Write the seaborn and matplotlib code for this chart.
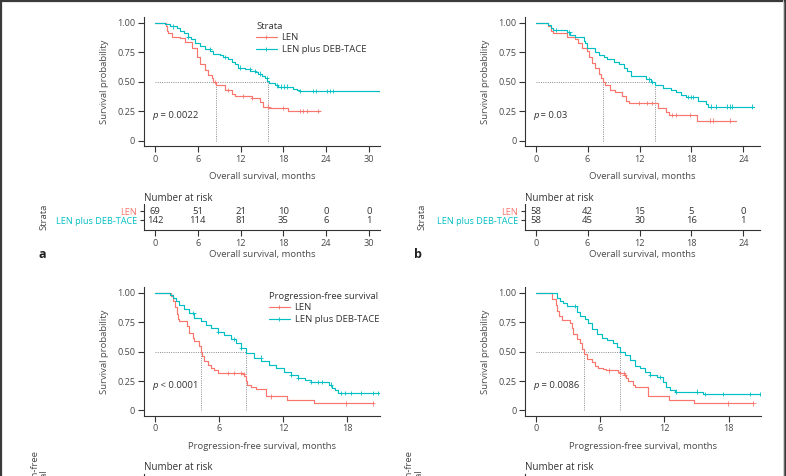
import numpy as np
import pandas as pd
import matplotlib
matplotlib.use("Agg")
import matplotlib.pyplot as plt
import seaborn as sns
from matplotlib.lines import Line2D

sns.set_theme(style="ticks")
plt.rcParams['font.family'] = ['Open Sans', 'DejaVu Sans']

GROUPS = ["LEN", "LEN plus DEB-TACE"]
COLORS = {"LEN": "#F8766D", "LEN plus DEB-TACE": "#00BFC4"}

# ---------------- Panel a : overall survival ----------------
a_len_t = [0, 1.50, 1.64, 1.87, 2.34, 3.50, 4.21, 5.14, 5.84, 6.31, 7.01, 7.48, 7.94, 8.20, 8.55, 9.81,
           10.75, 11.21, 13.55, 14.72, 15.19, 15.98, 18.69, 23.13]
a_len_s = [1.0, 0.97, 0.93, 0.91, 0.88, 0.87, 0.84, 0.785, 0.71, 0.65, 0.60, 0.56, 0.53, 0.50, 0.47, 0.43,
           0.40, 0.38, 0.36, 0.33, 0.29, 0.28, 0.25, 0.25]
a_len_cens = [8.4, 10.3, 12.4, 13.6, 15.9, 18.0, 20.3, 20.8, 21.3, 22.9]
a_deb_t = [0, 1.31, 1.40, 2.10, 3.04, 3.50, 4.11, 4.58, 5.05, 5.61, 6.31, 7.01, 7.71, 8.18, 9.11, 9.58,
           10.19, 10.75, 11.21, 11.68, 12.62, 13.32, 14.02, 14.49, 14.95, 15.42, 15.75, 15.98, 16.82,
           17.29, 18.69, 19.39, 19.86, 20.19, 32.0]
a_deb_s = [1.0, 0.995, 0.99, 0.97, 0.96, 0.93, 0.91, 0.88, 0.86, 0.83, 0.80, 0.78, 0.76, 0.74, 0.73, 0.71,
           0.69, 0.67, 0.65, 0.62, 0.61, 0.59, 0.58, 0.57, 0.55, 0.53, 0.51, 0.49, 0.47,
           0.46, 0.455, 0.44, 0.43, 0.42, 0.42]
a_deb_cens = [2.5, 4.6, 7.7, 9.8, 11.9, 13.3, 14.0, 14.7, 15.7, 17.1, 17.6, 18.1, 18.5, 20.3, 22.2, 22.6,
              24.1, 24.5, 25.0]
a_medians = [8.55, 15.9]
a_pval = "= 0.0022"
a_risk_times = [0, 6, 12, 18, 24, 30]
a_risk_len = [69, 51, 21, 10, 0, 0]
a_risk_deb = [142, 114, 81, 35, 6, 1]

# ---------------- Panel b : overall survival ----------------
b_len_t = [0, 1.44, 1.75, 2.05, 3.58, 4.55, 4.94, 5.33, 5.91, 6.11, 6.50, 6.89, 7.35, 7.59, 7.79, 8.05,
           8.64, 9.22, 10.0, 10.4, 10.8, 14.1, 15.06, 15.45, 18.6, 23.2]
b_len_s = [1.0, 0.97, 0.93, 0.91, 0.88, 0.86, 0.83, 0.79, 0.76, 0.71, 0.66, 0.62, 0.57, 0.53, 0.50, 0.47,
           0.43, 0.41, 0.38, 0.34, 0.32, 0.28, 0.24, 0.22, 0.17, 0.17]
b_len_cens = [11.9, 12.9, 13.5, 15.8, 16.2, 17.8, 20.1, 20.5, 22.5]
b_deb_t = [0, 1.44, 1.75, 2.02, 3.58, 3.97, 4.55, 5.53, 5.72, 5.91, 6.89, 7.28, 7.86, 8.25, 9.03, 9.61,
           10.2, 10.6, 11.0, 12.7, 13.3, 13.8, 14.7, 15.6, 16.2, 16.8, 17.4, 18.8, 19.7, 19.9, 25.2]
b_deb_s = [1.0, 0.98, 0.96, 0.94, 0.92, 0.90, 0.88, 0.85, 0.83, 0.79, 0.75, 0.73, 0.71, 0.69, 0.67, 0.65,
           0.62, 0.59, 0.55, 0.52, 0.50, 0.47, 0.45, 0.43, 0.41, 0.39, 0.37, 0.34, 0.31, 0.29, 0.29]
b_deb_cens = [2.4, 3.9, 13.1, 13.5, 17.6, 18.0, 18.2, 20.3, 20.9, 22.1, 22.5, 22.7, 25.0]
b_medians = [7.8, 13.8]
b_pval = "= 0.03"
b_risk_times = [0, 6, 12, 18, 24]
b_risk_len = [58, 42, 15, 5, 0]
b_risk_deb = [58, 45, 30, 16, 1]

# ---------------- Panel c : progression-free survival ----------------
c_len_t = [0, 1.50, 1.72, 1.87, 2.03, 2.19, 2.28, 3.0, 3.22, 3.53, 3.69, 4.09, 4.31, 4.41, 4.56, 4.94,
           5.25, 5.56, 5.88, 8.2, 8.38, 8.53, 8.63, 9.0, 9.47, 10.4, 12.4, 14.9, 20.4]
c_len_s = [1.0, 0.97, 0.93, 0.88, 0.82, 0.78, 0.76, 0.72, 0.66, 0.62, 0.59, 0.55, 0.50, 0.46, 0.42, 0.39,
           0.36, 0.34, 0.32, 0.31, 0.29, 0.25, 0.22, 0.20, 0.18, 0.12, 0.09, 0.06, 0.06]
c_len_cens = [6.8, 7.4, 8.1, 8.3, 10.9, 17.9, 20.4]
c_deb_t = [0, 1.45, 1.66, 1.97, 2.28, 2.75, 3.22, 3.69, 4.31, 4.78, 5.25, 5.88, 6.5, 7.13, 7.59, 8.06,
           8.53, 9.31, 9.94, 10.7, 11.3, 12.1, 12.75, 13.4, 14.0, 14.6, 16.3, 16.6, 16.9, 17.1, 21.5]
c_deb_s = [1.0, 0.98, 0.96, 0.93, 0.90, 0.86, 0.83, 0.79, 0.76, 0.73, 0.70, 0.67, 0.64, 0.61, 0.57, 0.53,
           0.49, 0.45, 0.42, 0.39, 0.36, 0.33, 0.30, 0.28, 0.26, 0.24, 0.22, 0.19, 0.17, 0.15, 0.15]
c_deb_cens = [3.6, 5.9, 7.4, 8.1, 9.9, 12.75, 13.4, 14.6, 15.25, 15.6, 16.5, 17.4, 17.75, 18.4, 19.3,
              20.4, 20.9]
c_medians = [4.3, 8.5]
c_pval = "< 0.0001"

# ---------------- Panel d : progression-free survival ----------------
d_len_t = [0, 1.49, 1.86, 2.02, 2.17, 2.42, 3.2, 3.35, 3.51, 3.82, 4.13, 4.35, 4.53, 4.75, 5.22, 5.53,
           5.84, 6.3, 6.6, 7.7, 7.86, 8.26, 8.45, 8.64, 9.1, 9.3, 10.5, 12.45, 14.8, 20.3]
d_len_s = [1.0, 0.95, 0.90, 0.85, 0.80, 0.77, 0.74, 0.70, 0.65, 0.61, 0.57, 0.52, 0.48, 0.44, 0.41, 0.38,
           0.36, 0.35, 0.34, 0.33, 0.32, 0.30, 0.28, 0.25, 0.22, 0.20, 0.12, 0.09, 0.06, 0.06]
d_len_cens = [6.8, 7.9, 8.2, 8.3, 17.95, 20.3]
d_deb_t = [0, 1.96, 2.27, 2.58, 2.89, 3.82, 4.13, 4.60, 4.91, 5.22, 5.68, 6.15, 6.61, 7.24, 7.55, 7.86,
           8.32, 8.79, 9.25, 9.72, 10.19, 10.65, 11.27, 11.89, 12.2, 12.52, 12.98, 15.62, 21.1]
d_deb_s = [1.0, 0.96, 0.935, 0.91, 0.89, 0.84, 0.80, 0.78, 0.74, 0.69, 0.65, 0.62, 0.60, 0.57, 0.54, 0.50,
           0.47, 0.43, 0.38, 0.36, 0.33, 0.30, 0.285, 0.24, 0.20, 0.17, 0.16, 0.14, 0.14]
d_deb_cens = [3.7, 10.65, 11.6, 13.1, 15.0, 15.8, 17.5, 20.0, 20.9]
d_medians = [4.55, 7.85]
d_pval = "= 0.0086"

x_ticks_os_a = [0, 6, 12, 18, 24, 30]
x_ticks_os_b = [0, 6, 12, 18, 24]
x_ticks_pfs = [0, 6, 12, 18]
y_ticks = [0, 0.25, 0.50, 0.75, 1.00]
y_tick_labels = ["0", "0.25", "0.50", "0.75", "1.00"]

TXT = "#4a4a4a"
DARK = "#333333"
FS = 6.6

W, H = 786, 476
fig = plt.figure(figsize=(W / 100, H / 100), dpi=100)


def add_px_axes(l, t, r, b):
    return fig.add_axes([l / W, 1 - b / H, (r - l) / W, (b - t) / H])


def step_value(t, s, x):
    idx = np.searchsorted(np.asarray(t), np.asarray(x), side="right") - 1
    return np.asarray(s)[idx]


def style(ax):
    for sp in ["top", "right"]:
        ax.spines[sp].set_visible(False)
    for sp in ["left", "bottom"]:
        ax.spines[sp].set_color(DARK)
        ax.spines[sp].set_linewidth(0.8)
    ax.tick_params(length=4.1, width=0.8, color=DARK, pad=2.2, labelsize=FS, labelcolor=TXT)
    ax.grid(False)
    ax.set_facecolor("white")


def km_panel(box, len_t, len_s, len_c, deb_t, deb_s, deb_c, medians, pval, xlim, xticks,
             xlabel, legend_title=None, legend_x=0.5):
    ax = add_px_axes(*box)
    style(ax)
    curves = pd.concat([
        pd.DataFrame({"time": len_t, "surv": len_s, "group": GROUPS[0]}),
        pd.DataFrame({"time": deb_t, "surv": deb_s, "group": GROUPS[1]}),
    ], ignore_index=True)
    cens = pd.concat([
        pd.DataFrame({"time": len_c, "surv": step_value(len_t, len_s, len_c), "group": GROUPS[0]}),
        pd.DataFrame({"time": deb_c, "surv": step_value(deb_t, deb_s, deb_c), "group": GROUPS[1]}),
    ], ignore_index=True)
    # median reference lines
    ax.plot([0, max(medians)], [0.5, 0.5], color="#8a8a8a", lw=0.7, ls=(0, (1, 1.3)), zorder=1)
    for m in medians:
        ax.plot([m, m], [0, 0.5], color="#8a8a8a", lw=0.7, ls=(0, (1, 1.3)), zorder=1)
    sns.lineplot(data=curves, x="time", y="surv", hue="group", palette=COLORS, hue_order=GROUPS,
                 drawstyle="steps-post", estimator=None, sort=False, linewidth=0.85,
                 legend=False, ax=ax)
    sns.scatterplot(data=cens, x="time", y="surv", hue="group", palette=COLORS, hue_order=GROUPS,
                    marker="+", s=10, linewidth=0.6, legend=False, ax=ax, zorder=3)
    ax.set_xlim(*xlim)
    ax.set_ylim(-0.045, 1.05)
    ax.set_xticks(xticks)
    ax.set_xticklabels([str(v) for v in xticks])
    ax.set_yticks(y_ticks)
    ax.set_yticklabels(y_tick_labels)
    ax.set_xlabel(xlabel, fontsize=FS + 0.2, color=TXT)
    ax.set_ylabel("Survival probability", fontsize=FS + 0.2, color=TXT)
    ax.xaxis.set_label_coords(0.5, -0.205)
    ax.yaxis.set_label_coords(-0.147, 0.5)
    # p value
    pt = ax.text(0.034, 0.20, "p", style="italic", fontsize=FS + 0.2, color=DARK,
                 transform=ax.transAxes, ha="left", va="bottom")
    ax.annotate(" " + pval, xy=(1, 0), xycoords=pt, ha="left", va="bottom",
                fontsize=FS + 0.2, color=DARK)
    if legend_title is not None:
        handles = [Line2D([0], [0], color=COLORS[g], lw=0.85, marker="+", markersize=3,
                          markeredgewidth=0.6) for g in GROUPS]
        leg = ax.legend(handles, GROUPS, title=legend_title, loc="upper left",
                        bbox_to_anchor=(legend_x, 0.965), frameon=False, fontsize=FS + 0.2,
                        title_fontsize=FS + 0.2, handlelength=2.2, handletextpad=0.5,
                        labelspacing=0.3, borderpad=0, borderaxespad=0, alignment="left")
        for t in leg.get_texts():
            t.set_color(DARK)
        leg.get_title().set_color(DARK)
    return ax


def risk_panel(box, xlim, xticks, times, len_n, deb_n, xlabel, ylabel, ylabel_x, visible=True):
    ax = add_px_axes(*box)
    style(ax)
    ax.set_xlim(*xlim)
    ax.set_ylim(-0.1, 2.8)
    ax.set_xticks(xticks)
    ax.set_yticks([2, 1])
    ax.tick_params(axis="y", length=3.0)
    if visible:
        ax.set_xticklabels([str(v) for v in xticks])
        ax.set_yticklabels(GROUPS)
        for lab, g in zip(ax.get_yticklabels(), GROUPS):
            lab.set_color(COLORS[g])
        for t, n1, n2 in zip(times, len_n, deb_n):
            ax.text(t, 2, str(n1), ha="center", va="center", fontsize=FS + 0.2, color=DARK)
            ax.text(t, 1, str(n2), ha="center", va="center", fontsize=FS + 0.2, color=DARK)
        ax.set_xlabel(xlabel, fontsize=FS + 0.2, color=TXT)
        ax.xaxis.set_label_coords(0.5, -0.78)
    else:
        # the lower part of this table lies below the cropped page
        ax.set_xticklabels([])
        ax.set_yticklabels([])
    ax.text(0, 1.23, "Number at risk", transform=ax.transAxes, ha="left", va="center",
            fontsize=FS + 0.4, color=DARK)
    ax.set_ylabel(ylabel, fontsize=FS + 0.2, color=TXT, linespacing=1.1)
    ax.yaxis.set_label_coords(ylabel_x, 0.5)
    return ax


os_label = "Overall survival, months"
pfs_label = "Progression-free survival, months"

km_panel((144, 17, 380, 146), a_len_t, a_len_s, a_len_cens, a_deb_t, a_deb_s, a_deb_cens,
         a_medians, a_pval, (-1.54, 31.54), x_ticks_os_a, os_label, "Strata", 0.475)
km_panel((525, 17, 760, 146), b_len_t, b_len_s, b_len_cens, b_deb_t, b_deb_s, b_deb_cens,
         b_medians, b_pval, (-1.24, 25.93), x_ticks_os_b, os_label)
km_panel((144, 287, 380, 415.7), c_len_t, c_len_s, c_len_cens, c_deb_t, c_deb_s, c_deb_cens,
         c_medians, c_pval, (-1.03, 21.07), x_ticks_pfs, pfs_label, "Progression-free survival", 0.53)
km_panel((525, 287, 760.5, 415.7), d_len_t, d_len_s, d_len_cens, d_deb_t, d_deb_s, d_deb_cens,
         d_medians, d_pval, (-1.0, 20.97), x_ticks_pfs, pfs_label)

risk_panel((144, 204, 380, 230), (-1.54, 31.54), x_ticks_os_a, a_risk_times, a_risk_len, a_risk_deb,
           os_label, "Strata", -0.405)
risk_panel((525, 204, 760, 230), (-1.24, 25.93), x_ticks_os_b, b_risk_times, b_risk_len, b_risk_deb,
           os_label, "Strata", -0.42)
risk_panel((144, 473.5, 380, 499.5), (-1.03, 21.07), x_ticks_pfs, None, None, None,
           pfs_label, "Progression-free\nsurvival", -0.404, visible=False)
risk_panel((525, 473.5, 760.5, 499.5), (-1.0, 20.97), x_ticks_pfs, None, None, None,
           pfs_label, "Progression-free\nsurvival", -0.432, visible=False)

# panel letters
fig.text(42 / W, 1 - 255 / H, "a", fontsize=9, fontweight="bold", color="#222222", ha="center", va="center")
fig.text(418 / W, 1 - 255 / H, "b", fontsize=9, fontweight="bold", color="#222222", ha="center", va="center")

# page frame
fig.add_artist(Line2D([0, 1], [1 - 0.8 / H, 1 - 0.8 / H], transform=fig.transFigure, color="#3a3a3a", lw=1.6))
fig.add_artist(Line2D([0.9 / W, 0.9 / W], [0, 1], transform=fig.transFigure, color="#3a3a3a", lw=1.6))
fig.add_artist(Line2D([1 - 1.2 / W, 1 - 1.2 / W], [0, 1], transform=fig.transFigure, color="#3a3a3a", lw=1.8))
fig.add_artist(Line2D([1 - 3.5 / W, 1 - 3.5 / W], [0, 1], transform=fig.transFigure, color="#cfcfcf", lw=0.7))

fig.savefig("out.png", dpi=100, facecolor="white")
